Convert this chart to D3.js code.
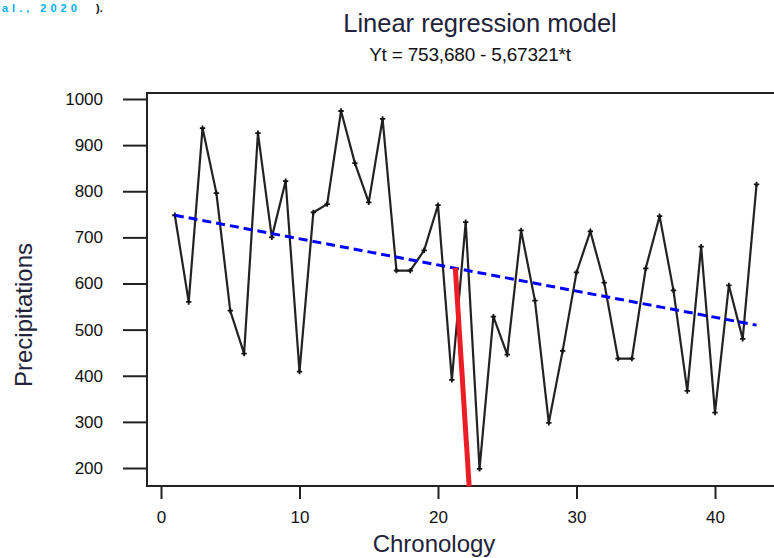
<!DOCTYPE html>
<html>
<head>
<meta charset="utf-8">
<script src="https://cdn.jsdelivr.net/npm/d3@7"></script>
<style>
  html, body { margin: 0; padding: 0; background: #fff; }
  svg { display: block; }
  text { font-family: "Liberation Sans", Arial, sans-serif; }
</style>
</head>
<body>
<svg id="chart" width="774" height="558"></svg>
<script>
// ---- data ----
const chronology = d3.range(1, 44);
const precipitations = [
  748, 560, 937, 796, 541, 448, 926, 700, 822, 409,
  754, 772, 974, 861, 776, 957, 628, 628, 672, 770,
  391, 733, 198, 528, 446, 715, 563, 298, 454, 624,
  713, 602, 437, 437, 633, 746, 585, 367, 680, 320,
  596, 480, 815
];
const trendT = [1, 43];
const trendValues = [748.0, 509.7];          // fitted line endpoints: Yt = 753,680 - 5,67321*t
const breakT = [21.25, 22.25];
const breakValues = [634, 160];
const xTicks = [0, 10, 20, 30, 40];
const yTicks = [200, 300, 400, 500, 600, 700, 800, 900, 1000];
const titleText = "Linear regression model";
const subtitleText = "Yt = 753,680 - 5,67321*t";

// ---- scales ----
const svg = d3.select("#chart");
const x = d3.scaleLinear().domain([0, 40]).range([161, 715]);
const y = d3.scaleLinear().domain([200, 1000]).range([468, 99]);

const frameL = 147, frameT = 93, frameB = 486, frameR = 800;

// top-left fragment of surrounding text
svg.append("text").attr("x", 2).attr("y", 12)
  .attr("font-size", 11).attr("font-weight", "bold")
  .attr("fill", "#00b0f0").attr("letter-spacing", 4).text("al., 2020");
svg.append("text").attr("x", 96).attr("y", 12)
  .attr("font-size", 11).attr("font-weight", "bold")
  .attr("fill", "#111").text(").");

// titles
svg.append("text").attr("x", 480).attr("y", 32).attr("text-anchor", "middle")
  .attr("font-size", 25.5).attr("fill", "#22223a").text(titleText);
svg.append("text").attr("x", 470).attr("y", 61).attr("text-anchor", "middle")
  .attr("font-size", 19).attr("fill", "#111").attr("letter-spacing", -0.2).text(subtitleText);

// frame
svg.append("path")
  .attr("d", `M${frameR},${frameT}H${frameL}V${frameB}H${frameR}`)
  .attr("fill", "none").attr("stroke", "#222").attr("stroke-width", 2);

// y axis ticks
const yAxis = d3.axisLeft(y).tickValues(yTicks).tickSize(24).tickPadding(20)
  .tickFormat(d3.format("d"));
const gy = svg.append("g").attr("transform", `translate(${frameL},0)`).call(yAxis);
gy.select(".domain").remove();
gy.selectAll(".tick line").attr("stroke", "#222").attr("stroke-width", 2);
gy.selectAll(".tick text").attr("font-size", 17).attr("fill", "#111")
  .attr("font-family", "Liberation Sans, Arial, sans-serif");

// x axis ticks
const xAxis = d3.axisBottom(x).tickValues(xTicks).tickSize(13).tickPadding(12)
  .tickFormat(d3.format("d"));
const gx = svg.append("g").attr("transform", `translate(0,${frameB})`).call(xAxis);
gx.select(".domain").remove();
gx.selectAll(".tick line").attr("stroke", "#222").attr("stroke-width", 2);
gx.selectAll(".tick text").attr("font-size", 17).attr("fill", "#111")
  .attr("font-family", "Liberation Sans, Arial, sans-serif");

// axis titles
svg.append("text").attr("x", 434).attr("y", 552).attr("text-anchor", "middle")
  .attr("font-size", 24).attr("fill", "#22223a").text("Chronology");
svg.append("text").attr("transform", "translate(32,315) rotate(-90)")
  .attr("text-anchor", "middle").attr("font-size", 24).attr("fill", "#22223a")
  .text("Precipitations");

// series
const pts = chronology.map((t, i) => [t, precipitations[i]]);
const line = d3.line().x(d => x(d[0])).y(d => y(d[1]));
svg.append("path").datum(pts).attr("d", line)
  .attr("fill", "none").attr("stroke", "#222").attr("stroke-width", 2.2)
  .attr("stroke-linejoin", "miter");
svg.append("g").selectAll("path").data(pts).join("path")
  .attr("d", d3.symbol(d3.symbolCross, 16))
  .attr("transform", d => `translate(${x(d[0])},${y(d[1])})`)
  .attr("fill", "#111");

// trend line
const trend = trendT.map((t, i) => [t, trendValues[i]]);
svg.append("path").datum(trend).attr("d", line)
  .attr("fill", "none").attr("stroke", "#0000ff").attr("stroke-width", 3)
  .attr("stroke-dasharray", "9,5");

// break line
const brk = breakT.map((t, i) => [t, breakValues[i]]);
svg.append("path").datum(brk).attr("d", line)
  .attr("fill", "none").attr("stroke", "#ee1c24").attr("stroke-width", 5);
</script>
</body>
</html>
